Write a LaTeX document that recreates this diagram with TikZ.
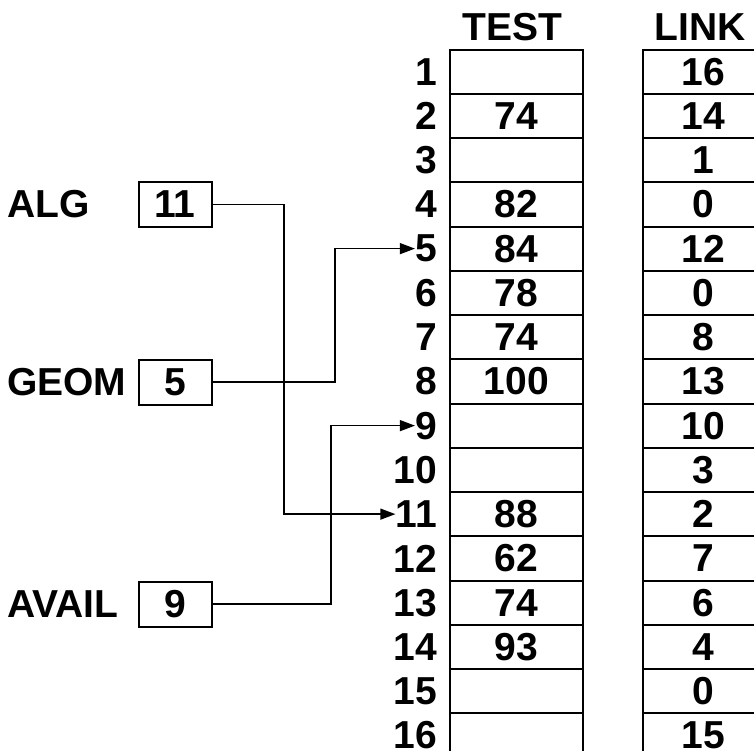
\documentclass[tikz,border=0pt]{standalone}
\usepackage{fontspec}
\setmainfont{Liberation Sans}
\usetikzlibrary{arrows.meta}
\begin{document}
\begin{tikzpicture}[x=1pt,y=-1pt,
  every node/.style={font=\fontsize{39}{42}\selectfont\bfseries,inner sep=0pt},
  testcell/.style={draw,line width=2pt,minimum width=133pt,minimum height=44.25pt},
  linkcell/.style={draw,line width=2pt,minimum width=120pt,minimum height=44.25pt},
  rowlabel/.style={anchor=east},
  valbox/.style={draw,line width=2pt,minimum width=73pt,minimum height=45pt},
  varname/.style={anchor=west},
  conn/.style={line width=1.3pt},
  arr/.style={conn,-{Triangle[length=15pt,width=11pt]}}]
\useasboundingbox (0,0) rectangle (754,750);
\clip (0,0) rectangle (754,750);
% headers
\node (htest) at (512,27) {TEST};
\node (hlink) at (700,27) {LINK};
% table
\foreach \t [count=\i] in {{},74,{},82,84,78,74,100,{},{},88,62,74,93,{},{}} {
  \pgfmathsetmacro\yc{49.5+(\i-0.5)*44.25}
  \node[testcell] (t\i) at (516.5,\yc) {\t};
  \node[rowlabel] (r\i) at (437,\yc) {\i};
}
\foreach \l [count=\i] in {16,14,1,0,12,0,8,13,10,3,2,7,6,4,0,15} {
  \pgfmathsetmacro\yc{49.5+(\i-0.5)*44.25}
  \node[linkcell] (l\i) at (703,\yc) {\l};
}
% pointer variables
\node[varname] (alg) at (7,204.5) {ALG};
\node[valbox] (algv) at (175,204.5) {11};
\node[varname] (geom) at (7,382) {GEOM};
\node[valbox] (geomv) at (175,382) {5};
\node[varname] (avail) at (7,604) {AVAIL};
\node[valbox] (availv) at (175,604) {9};
% connectors
\coordinate (va) at (284,0);
\coordinate (vg) at (335,0);
\coordinate (vv) at (331,0);
\draw[arr] (algv.east) -| (va |- r11.west) -- (r11.west);
\draw[arr] (geomv.east) -| (vg |- r5.west) -- (r5.west);
\draw[arr] (availv.east) -| (vv |- r9.west) -- (r9.west);
\end{tikzpicture}
\end{document}
